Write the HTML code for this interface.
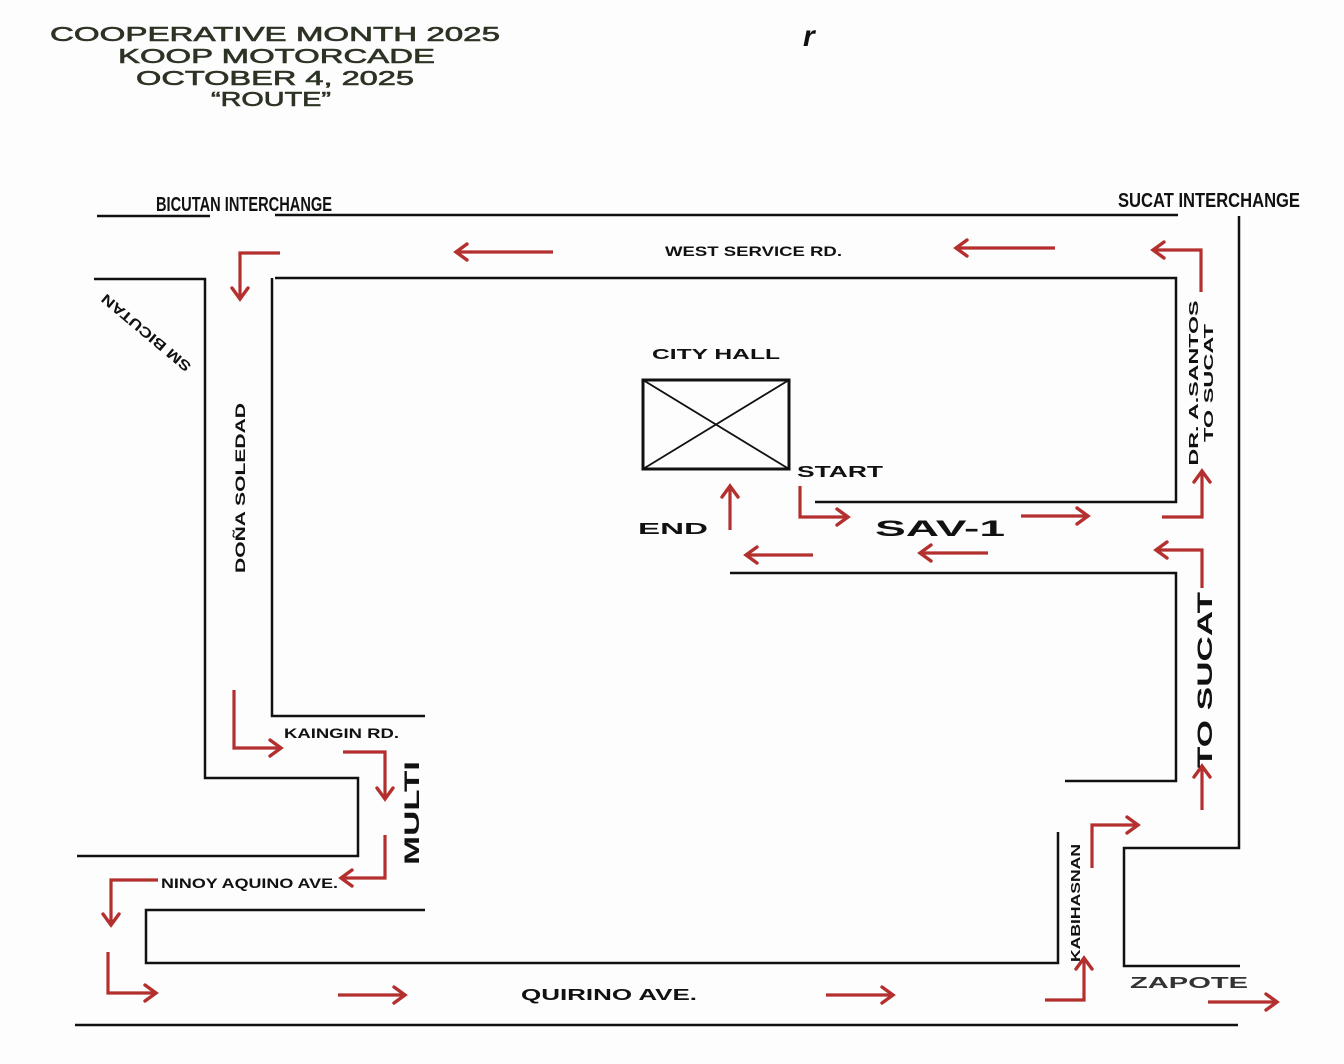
<!DOCTYPE html>
<html><head><meta charset="utf-8"><style>
html,body{margin:0;padding:0;background:#fff;}
svg{display:block;}
text{font-family:"Liberation Sans",sans-serif;font-weight:bold;fill:#111;}
.t{fill:#2d3324;font-size:20px;font-weight:normal;stroke:#2d3324;stroke-width:0.6;}
.r{fill:none;stroke:#111;stroke-width:2.5;}
.a{fill:none;stroke:#b3302f;stroke-width:3.2;stroke-linecap:butt;stroke-linejoin:miter;}
</style></head><body>
<svg width="1344" height="1064" viewBox="0 0 1344 1064" xmlns="http://www.w3.org/2000/svg">
<rect width="1344" height="1064" fill="#fdfdfd"/>
<defs><marker id="h" viewBox="-14 -12 20 24" refX="0" refY="0" markerWidth="20" markerHeight="24" orient="auto" markerUnits="userSpaceOnUse" style="overflow:visible">
<path d="M-11,-8 L0,0 L-11,8" fill="none" stroke="#b3302f" stroke-width="3.4" stroke-linecap="round" stroke-linejoin="miter"/></marker></defs>
<!-- title -->
<text class="t" x="50" y="41" textLength="450" lengthAdjust="spacingAndGlyphs">COOPERATIVE MONTH 2025</text>
<text class="t" x="118" y="63" textLength="317" lengthAdjust="spacingAndGlyphs">KOOP MOTORCADE</text>
<text class="t" x="136" y="85" textLength="278" lengthAdjust="spacingAndGlyphs">OCTOBER 4, 2025</text>
<text class="t" x="211" y="106" textLength="120" lengthAdjust="spacingAndGlyphs">“ROUTE”</text>
<text x="803" y="46" style="font-size:30px;font-style:italic">r</text>

<!-- roads -->
<g class="r">
<path d="M97,216 H210"/>
<path d="M275,215 H1178"/>
<path d="M1239,216 V848 H1124 V966 H1240"/>
<path d="M275,278 H1176 V502 H815"/>
<path d="M730,573 H1176 V781 H1065"/>
<path d="M425,716 H272 V278"/>
<path d="M94,279 H205 V778 H358 V856 H77"/>
<path d="M425,910 H146 V963 H1058 V832"/>
<path d="M75,1025 H1238"/>
<rect x="643" y="380" width="146" height="89" stroke-width="3"/>
<path d="M643,380 L789,469 M789,380 L643,469" stroke-width="1.8"/>
</g>

<!-- arrows -->
<g class="a">
<path d="M553,252 H456" marker-end="url(#h)"/>
<path d="M1055,248 H956" marker-end="url(#h)"/>
<path d="M1201,292 V250 H1153" marker-end="url(#h)"/>
<path d="M280,253 H240 V299" marker-end="url(#h)"/>
<path d="M800,486 V517 H848" marker-end="url(#h)"/>
<path d="M1021,516 H1088" marker-end="url(#h)"/>
<path d="M1162,517 H1202 V471" marker-end="url(#h)"/>
<path d="M988,553 H920" marker-end="url(#h)"/>
<path d="M813,555 H746" marker-end="url(#h)"/>
<path d="M730,530 V486" marker-end="url(#h)"/>
<path d="M1202,588 V550 H1156" marker-end="url(#h)"/>
<path d="M1202,810 V766" marker-end="url(#h)"/>
<path d="M234,690 V748 H281" marker-end="url(#h)"/>
<path d="M343,752 H385 V799" marker-end="url(#h)"/>
<path d="M385,835 V878 H341" marker-end="url(#h)"/>
<path d="M158,880 H111 V925" marker-end="url(#h)"/>
<path d="M108,952 V993 H156" marker-end="url(#h)"/>
<path d="M338,995 H405" marker-end="url(#h)"/>
<path d="M826,995 H893" marker-end="url(#h)"/>
<path d="M1045,1000 H1084 V958" marker-end="url(#h)"/>
<path d="M1092,868 V825 H1138" marker-end="url(#h)"/>
<path d="M1208,1002 H1277" marker-end="url(#h)"/>
</g>

<!-- labels -->
<text x="156" y="211" style="font-size:20px" textLength="176" lengthAdjust="spacingAndGlyphs">BICUTAN INTERCHANGE</text>
<text x="1118" y="207" style="font-size:20px" textLength="182" lengthAdjust="spacingAndGlyphs">SUCAT INTERCHANGE</text>
<text x="665" y="256" style="font-size:14px" textLength="177" lengthAdjust="spacingAndGlyphs">WEST SERVICE RD.</text>
<text transform="translate(146,333) rotate(220)" text-anchor="middle" y="5" style="font-size:14px" textLength="112" lengthAdjust="spacingAndGlyphs">SM BICUTAN</text>
<text transform="translate(240,488) rotate(-90)" text-anchor="middle" y="5" style="font-size:14px" textLength="170" lengthAdjust="spacingAndGlyphs">DOÑA SOLEDAD</text>
<text x="652" y="359" style="font-size:15px" textLength="128" lengthAdjust="spacingAndGlyphs">CITY HALL</text>
<text x="797" y="477" style="font-size:16px" textLength="86" lengthAdjust="spacingAndGlyphs">START</text>
<text x="638" y="534" style="font-size:16px" textLength="70" lengthAdjust="spacingAndGlyphs">END</text>
<text x="875" y="536" style="font-size:22px" textLength="130" lengthAdjust="spacingAndGlyphs">SAV-1</text>
<text transform="translate(1193,383) rotate(-90)" text-anchor="middle" y="5" style="font-size:13px" textLength="165" lengthAdjust="spacingAndGlyphs">DR. A.SANTOS</text>
<text transform="translate(1208,383) rotate(-90)" text-anchor="middle" y="5" style="font-size:13px" textLength="118" lengthAdjust="spacingAndGlyphs">TO SUCAT</text>
<text transform="translate(1205,680) rotate(-90)" text-anchor="middle" y="7" style="font-size:21px" textLength="176" lengthAdjust="spacingAndGlyphs">TO SUCAT</text>
<text x="284" y="738" style="font-size:14px" textLength="115" lengthAdjust="spacingAndGlyphs">KAINGIN RD.</text>
<text transform="translate(412,813) rotate(-90)" text-anchor="middle" y="7" style="font-size:21px" textLength="104" lengthAdjust="spacingAndGlyphs">MULTI</text>
<text x="161" y="888" style="font-size:14px" textLength="177" lengthAdjust="spacingAndGlyphs">NINOY AQUINO AVE.</text>
<text x="521" y="1000" style="font-size:16px" textLength="176" lengthAdjust="spacingAndGlyphs">QUIRINO AVE.</text>
<text transform="translate(1075,903) rotate(-90)" text-anchor="middle" y="5" style="font-size:13px" textLength="118" lengthAdjust="spacingAndGlyphs">KABIHASNAN</text>
<text x="1130" y="988" style="font-size:16px;fill:#333" textLength="118" lengthAdjust="spacingAndGlyphs">ZAPOTE</text>
</svg>
</body></html>
